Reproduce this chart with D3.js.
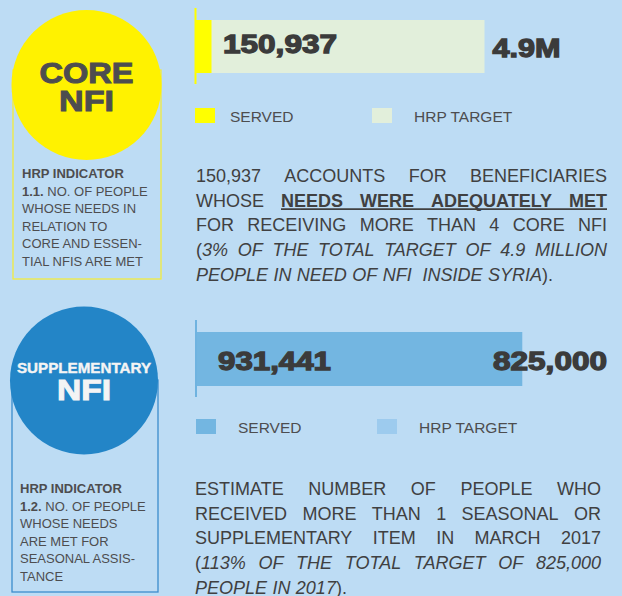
<!DOCTYPE html>
<html>
<head>
<meta charset="utf-8">
<script src="https://cdn.jsdelivr.net/npm/d3@7"></script>
<style>
  body { margin: 0; background: #bddcf4; }
  svg { display: block; font-family: "Liberation Sans", Arial, sans-serif; }
</style>
</head>
<body>
<svg id="chart"></svg>
<script>
// values
var headings = [['CORE', 'NFI'], ['SUPPLEMENTARY', 'NFI']];
var indicatorCodes = ['1.1.', '1.2.'];
var indicatorLines = [
    ['NO. OF PEOPLE', 'WHOSE NEEDS IN', 'RELATION TO', 'CORE AND ESSEN-', 'TIAL NFIS ARE MET'],
    ['NO. OF PEOPLE', 'WHOSE NEEDS', 'ARE MET FOR', 'SEASONAL ASSIS-', 'TANCE']
];
var servedValues = [150937, 931441];
var targetValues = [4900000, 825000];
var servedLabels = ['150,937', '931,441'];
var targetLabels = ['4.9M', '825,000'];
var legendLabels = ['SERVED', 'HRP TARGET'];
var paragraphs = [
    [
        {j: true, s: [['150,937 ACCOUNTS FOR BENEFICIARIES', '']]},
        {j: true, s: [['WHOSE ', ''], ['NEEDS WERE ADEQUATELY MET', 'bu']]},
        {j: true, s: [['FOR RECEIVING MORE THAN 4 CORE NFI', '']]},
        {j: true, s: [['(', ''], ['3% OF THE TOTAL TARGET OF 4.9 MILLION', 'i']]},
        {j: false, s: [['PEOPLE IN NEED OF NFI  INSIDE SYRIA', 'i'], [').', '']]}
    ],
    [
        {j: true, s: [['ESTIMATE NUMBER OF PEOPLE WHO', '']]},
        {j: true, s: [['RECEIVED MORE THAN 1 SEASONAL OR', '']]},
        {j: true, s: [['SUPPLEMENTARY ITEM IN MARCH 2017', '']]},
        {j: true, s: [['(', ''], ['113% OF THE TOTAL TARGET OF 825,000', 'i']]},
        {j: false, s: [['PEOPLE IN 2017', 'i'], [').', '']]}
    ]
];

// layout + styles for the two blocks
var layout = [
    {cx: 86.5, cy: 85, r: 75, circle: '#fff200', box: [13, 70, 148, 209], boxStroke: '#f3ec3c', headColor: '#4d4d4f',
     headSizes: [29, 29], headY: [83, 111], headW: [94, 55],
     indX: 22, indY: 178,
     axisX: 195.5, axisY: [8, 84], barY: 20, barH: 53, served: '#ffff00', target: '#e2efdb',
     servedLabelX: 223, servedLabelY: 53, targetLabelY: 57, targetAnchor: 'start', targetLabelX: null,
     labelW: [114, 68],
     legY: 108, legSq: [195, 372], legTx: [230, 414],
     paraX: [196, 607], paraY: 182},
    {cx: 84, cy: 380.5, r: 74, circle: '#2385c7', box: [12, 380, 146, 212], boxStroke: '#3b8dcd', headColor: '#f4f4f4',
     headSizes: [14.5, 29], headY: [373, 400], headW: [134, 54],
     indX: 20, indY: 493,
     axisX: 196, axisY: [320, 397], barY: 332, barH: 54, served: '#73b6e1', target: '#9dcbee',
     servedLabelX: 218, servedLabelY: 370, targetLabelY: 370, targetAnchor: 'end', targetLabelX: 607,
     labelW: [113, 114],
     legY: 419, legSq: [196, 377], legTx: [238, 419],
     paraX: [195, 601], paraY: 495}
];

var width = 622, height = 596;
var svg = d3.select('#chart').attr('width', width).attr('height', height);
svg.append('rect').attr('width', width).attr('height', height).attr('fill', '#bddcf4');

var textColor = '#4d4d4f';
var numColor = '#3b3b3b';

function justify(g, lines, x0, x1, y0, lh, fs) {
    lines.forEach(function(line, i) {
        var y = y0 + i * lh;
        var words = [], cur = null, spaces = 0;
        line.s.forEach(function(seg) {
            seg[0].split(' ').forEach(function(p, k) {
                if (k > 0) { cur = null; spaces++; }
                if (p === '') return;
                if (!cur) { cur = []; cur.sp = spaces; words.push(cur); }
                cur.push({t: p, st: seg[1]});
                spaces = 0;
            });
        });
        var nodes = words.map(function(w) {
            var t = g.append('text').attr('y', y).attr('font-size', fs).attr('fill', '#404041');
            w.forEach(function(p) {
                t.append('tspan').text(p.t)
                    .attr('font-weight', p.st.indexOf('b') >= 0 ? 'bold' : null)
                    .attr('font-style', p.st.indexOf('i') >= 0 ? 'italic' : null);
            });
            return t;
        });
        var widths = nodes.map(function(n) { return n.node().getComputedTextLength(); });
        var total = d3.sum(widths);
        var gap = (line.j && words.length > 1) ? (x1 - x0 - total) / (words.length - 1) : fs * 0.3;
        var x = x0, ux = [];
        nodes.forEach(function(n, k) {
            if (k > 0) x += line.j ? gap : gap * words[k].sp;
            n.attr('x', x);
            if (words[k].some(function(p) { return p.st.indexOf('u') >= 0; })) ux.push(x, x + widths[k]);
            x += widths[k];
        });
        if (ux.length) {
            g.append('line').attr('x1', d3.min(ux)).attr('x2', d3.max(ux))
                .attr('y1', y + 2.5).attr('y2', y + 2.5)
                .attr('stroke', '#404041').attr('stroke-width', 1.8);
        }
    });
}

layout.forEach(function(L, i) {
    var g = svg.append('g');

    // indicator box behind the circle
    g.append('rect').attr('x', L.box[0]).attr('y', L.box[1]).attr('width', L.box[2]).attr('height', L.box[3])
        .attr('fill', 'none').attr('stroke', L.boxStroke).attr('stroke-width', 1.3);
    g.append('circle').attr('cx', L.cx).attr('cy', L.cy).attr('r', L.r).attr('fill', L.circle);

    headings[i].forEach(function(h, k) {
        g.append('text').attr('x', L.cx).attr('y', L.headY[k]).attr('text-anchor', 'middle')
            .attr('font-size', L.headSizes[k]).attr('font-weight', 'bold')
            .attr('fill', L.headColor).attr('stroke', L.headColor).attr('stroke-width', k === 0 && i === 1 ? 0.4 : 1)
            .attr('textLength', L.headW[k]).attr('lengthAdjust', 'spacingAndGlyphs')
            .text(h);
    });

    // indicator text
    var ind = g.append('g').attr('fill', textColor).attr('font-size', 13);
    ind.append('text').attr('x', L.indX).attr('y', L.indY).attr('font-weight', 'bold').text('HRP INDICATOR');
    indicatorLines[i].forEach(function(line, k) {
        var t = ind.append('text').attr('x', L.indX).attr('y', L.indY + (k + 1) * 17.5);
        if (k === 0) {
            t.append('tspan').attr('font-weight', 'bold').text(indicatorCodes[i] + ' ');
        }
        t.append('tspan').text(line);
    });

    // bars
    var x = d3.scaleLinear().domain([0, targetValues[i]]).range([L.axisX, L.axisX + 289]);
    g.append('rect').attr('x', x(0)).attr('y', L.barY)
        .attr('width', x(targetValues[i]) - x(0)).attr('height', L.barH).attr('fill', L.target);
    g.append('rect').attr('x', x(0)).attr('y', L.barY)
        .attr('width', Math.max(x(servedValues[i]) - x(0), 16)).attr('height', L.barH).attr('fill', L.served);
    g.append('line').attr('x1', L.axisX).attr('x2', L.axisX).attr('y1', L.axisY[0]).attr('y2', L.axisY[1])
        .attr('stroke', i === 0 ? '#ffff00' : '#6fb3e0').attr('stroke-width', 2);

    var big = function(sel) {
        return sel.attr('font-size', 26).attr('font-weight', 'bold')
            .attr('fill', numColor).attr('stroke', numColor).attr('stroke-width', 1.3)
            .attr('lengthAdjust', 'spacingAndGlyphs');
    };
    big(g.append('text')).attr('x', L.servedLabelX).attr('y', L.servedLabelY)
        .attr('textLength', L.labelW[0]).text(servedLabels[i]);
    big(g.append('text'))
        .attr('x', L.targetLabelX !== null ? L.targetLabelX : x(targetValues[i]) + 8)
        .attr('y', L.targetLabelY).attr('text-anchor', L.targetAnchor)
        .attr('textLength', L.labelW[1]).text(targetLabels[i]);

    // legend
    [L.served, L.target].forEach(function(c, k) {
        g.append('rect').attr('x', L.legSq[k]).attr('y', L.legY).attr('width', 20).attr('height', 15).attr('fill', c);
        g.append('text').attr('x', L.legTx[k]).attr('y', L.legY + 13.5).attr('font-size', 15.5)
            .attr('fill', textColor).text(legendLabels[k]);
    });

    // paragraph
    justify(g.append('g'), paragraphs[i], L.paraX[0], L.paraX[1], L.paraY, 24.7, 18);
});
</script>
</body>
</html>
